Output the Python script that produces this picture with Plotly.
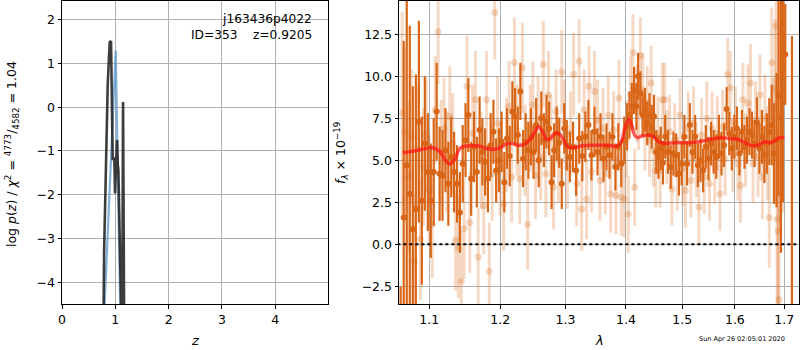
import plotly.graph_objects as go

# ---------------- left panel: p(z) ----------------
pz_black_z = [0.770, 0.776, 0.790, 0.826, 0.858, 0.895, 0.905, 0.920, 0.951, 0.965, 0.982, 0.995,
              1.014, 1.033, 1.045, 1.058, 1.070, 1.100, 1.112, 1.125, 1.132, 1.145, 1.158, 1.170]
pz_black_v = [-6.0, -4.5, -3.3, -1.29, 0.54, 1.49, 1.50, 1.49, -1.21, -1.15, -1.21, -1.97,
              -1.21, -0.75, -1.3, -1.44, -2.2, -3.8, -4.4, -5.5, -4.6, 0.12, -5.5, -6.0]
pz_blue_z = [0.785, 0.800, 1.008, 1.058, 1.090, 1.100]
pz_blue_v = [-6.0, -4.5, 1.30, -2.05, -4.5, -6.0]

# ---------------- right panel: spectrum ----------------
dark_wave = [1.062, 1.066, 1.070, 1.074, 1.078, 1.082, 1.086, 1.090, 1.094, 1.098, 1.102, 1.106, 1.110,
             1.114, 1.118, 1.122, 1.126, 1.130, 1.134, 1.138, 1.142, 1.146, 1.150, 1.154, 1.158, 1.162,
             1.166, 1.170, 1.174, 1.178, 1.182, 1.186, 1.190, 1.194, 1.198, 1.202, 1.206, 1.210, 1.214,
             1.218, 1.222, 1.226, 1.230, 1.234, 1.238, 1.242, 1.246, 1.250, 1.254, 1.258, 1.262, 1.266,
             1.270, 1.274, 1.278, 1.282, 1.286, 1.290, 1.294, 1.298, 1.302, 1.307, 1.312, 1.317, 1.322,
             1.327, 1.332, 1.337, 1.342, 1.347, 1.352, 1.357, 1.362, 1.367, 1.372, 1.377, 1.382, 1.387,
             1.392, 1.397, 1.402, 1.406, 1.410, 1.414, 1.418, 1.421, 1.425, 1.429, 1.433, 1.437, 1.441,
             1.445, 1.449, 1.453, 1.457, 1.461, 1.465, 1.469, 1.474, 1.479, 1.484, 1.489, 1.494, 1.499,
             1.504, 1.509, 1.514, 1.519, 1.524, 1.529, 1.534, 1.539, 1.544, 1.549, 1.554, 1.559, 1.564,
             1.569, 1.574, 1.579, 1.584, 1.589, 1.594, 1.599, 1.604, 1.609, 1.614, 1.619, 1.624, 1.629,
             1.634, 1.639, 1.644, 1.649, 1.654, 1.659, 1.664, 1.669, 1.674, 1.679, 1.684, 1.688, 1.693,
             1.697, 1.702, 1.716]
dark_flux = [-8.0, 1.6, 4.7, 3.0, 0.9, 2.1, 7.3, 2.6, 6.0, 4.3, 2.6, 4.3, 7.9,
             4.2, 4.1, 5.6, 3.6, 5.2, 4.3, 3.6, 1.9, 4.8, 6.2, 7.7, 3.9, 5.8,
             4.3, 6.8, 5.5, 4.9, 3.9, 5.9, 6.7, 4.4, 5.0, 6.1, 3.7, 6.3, 5.25,
             7.9, 7.6, 6.5, 9.1, 5.1, 6.1, 5.6, 6.4, 5.5, 7.1, 5.0, 7.5, 6.2,
             7.3, 6.9, 3.7, 5.6, 6.6, 6.05, 3.6, 6.9, 5.9, 5.2, 5.8, 4.4, 6.3,
             5.25, 6.4, 7.1, 5.3, 6.7, 5.5, 6.4, 5.1, 5.8, 5.3, 6.4, 4.6, 5.8,
             4.8, 6.2, 7.0, 7.7, 8.2, 9.15, 8.2, 10.0, 9.0, 7.7, 8.0, 7.2, 7.7,
             7.0, 7.6, 5.5, 5.2, 5.7, 4.86, 6.4, 5.5, 4.6, 5.4, 5.3, 4.2, 4.8,
             6.4, 4.8, 7.1, 5.5, 6.4, 4.7, 5.0, 4.4, 5.8, 5.1, 6.0, 5.5, 5.2,
             6.4, 5.4, 5.9, 8.05, 6.6, 5.7, 6.4, 6.9, 5.4, 6.7, 5.8, 6.2, 6.7,
             6.5, 6.0, 7.25, 5.7, 6.4, 5.35, 6.0, 6.7, 7.1, 5.4, 6.2, 8.85, 7.5,
             12.5, 11.3, -10.0]
dark_err = [5.5, 10.5, 12.0, 10.0, 8.5, 8.0, 6.0, 5.0, 4.0, 3.5, 3.4, 3.2, 2.9,
            2.8, 2.7, 2.5, 2.5, 2.4, 2.4, 2.3, 2.4, 2.3, 2.2, 2.2, 2.2, 2.1,
            2.1, 2.0, 2.0, 2.0, 2.0, 1.9, 1.9, 1.9, 1.9, 1.8, 1.8, 1.8, 1.8,
            1.8, 1.7, 1.7, 1.7, 1.7, 1.7, 1.7, 1.7, 1.6, 1.6, 1.6, 1.6, 1.6,
            1.6, 1.6, 1.6, 1.6, 1.6, 1.5, 1.5, 1.5, 1.5, 1.5, 1.5, 1.5, 1.5,
            1.5, 1.5, 1.5, 1.5, 1.5, 1.4, 1.4, 1.4, 1.4, 1.4, 1.4, 1.4, 1.4,
            1.4, 1.4, 1.4, 1.4, 1.4, 1.4, 1.4, 1.4, 1.3, 1.3, 1.3, 1.3, 1.3,
            1.3, 1.3, 1.3, 1.3, 1.3, 1.3, 1.3, 1.3, 1.3, 1.3, 1.3, 1.3, 1.3,
            1.3, 1.3, 1.3, 1.3, 1.3, 1.3, 1.3, 1.3, 1.3, 1.3, 1.3, 1.3, 1.3,
            1.3, 1.3, 1.3, 1.3, 1.3, 1.3, 1.3, 1.3, 1.3, 1.3, 1.3, 1.4, 1.4,
            1.4, 1.4, 1.5, 1.5, 1.6, 1.7, 1.8, 2.0, 2.4, 3.0, 4.0, 6.0, 8.0,
            10.0, 3.0, 22.4]

light_wave = [1.064, 1.068, 1.072, 1.076, 1.080, 1.084, 1.088, 1.092, 1.096, 1.100, 1.104, 1.108, 1.112,
              1.116, 1.120, 1.124, 1.128, 1.132, 1.136, 1.140, 1.144, 1.148, 1.152, 1.156, 1.160, 1.164,
              1.168, 1.172, 1.176, 1.180, 1.184, 1.188, 1.192, 1.196, 1.200, 1.205, 1.209, 1.213, 1.217,
              1.221, 1.225, 1.229, 1.233, 1.237, 1.241, 1.245, 1.249, 1.253, 1.257, 1.261, 1.265, 1.269,
              1.273, 1.277, 1.281, 1.285, 1.289, 1.294, 1.298, 1.303, 1.308, 1.313, 1.318, 1.322, 1.326,
              1.330, 1.334, 1.338, 1.342, 1.347, 1.352, 1.356, 1.361, 1.365, 1.370, 1.374, 1.379, 1.383,
              1.388, 1.392, 1.397, 1.401, 1.404, 1.408, 1.412, 1.415, 1.419, 1.422, 1.425, 1.429, 1.433,
              1.437, 1.441, 1.444, 1.448, 1.452, 1.456, 1.460, 1.464, 1.468, 1.472, 1.477, 1.481, 1.486,
              1.491, 1.496, 1.501, 1.506, 1.511, 1.516, 1.521, 1.526, 1.531, 1.536, 1.541, 1.546, 1.551,
              1.556, 1.561, 1.566, 1.571, 1.576, 1.581, 1.586, 1.591, 1.596, 1.601, 1.606, 1.611, 1.616,
              1.621, 1.626, 1.631, 1.636, 1.641, 1.646, 1.650, 1.655, 1.660, 1.665, 1.669, 1.674, 1.678,
              1.681, 1.683, 1.685, 1.687, 1.689, 1.692, 1.697]
light_flux = [7.8, 6.7, 4.0, 6.4, -1.0, 5.7, 0.3, 4.6, 6.5, 3.2, 1.2, 8.0, 12.65,
              5.5, 6.9, 4.9, 7.6, 6.0, 0.25, -0.2, -2.2, 0.95, 9.4, 1.3, 6.6, 8.6,
              -0.75, 5.0, 2.3, 8.6, -1.6, 4.2, 13.8, 7.2, 4.5, 2.4, 5.9, 8.2, 4.0,
              10.8, 6.8, 3.9, 10.5, 5.6, 1.2, 6.9, 8.3, 4.1, 7.4, 5.2, 10.7, 4.2,
              8.9, 6.3, 3.4, 7.9, 5.0, 10.25, 7.3, 4.6, 6.6, 10.1, 3.6, 10.9, 2.1,
              8.0, 2.7, 9.4, 4.3, 9.1, 7.4, 3.8, 6.9, 4.2, 7.7, 3.0, 6.8, 2.9,
              8.7, 2.8, 2.7, 6.3, 1.8, 8.9, 11.4, 3.4, 8.4, 7.9, 11.2, 9.2, 6.6,
              8.4, 6.2, 9.6, 5.6, 4.4, 6.6, 4.4, 8.6, 8.6, 5.8, 6.7, 3.3, 6.2,
              4.2, 7.7, 4.5, 3.2, 6.9, 3.8, 7.2, 5.0, 2.2, 6.5, 4.0, 7.5, 3.6,
              6.9, 4.6, 6.6, 3.0, 7.0, 5.1, 10.1, 9.3, 5.3, 7.2, 4.8, 3.5, 8.6,
              5.6, 8.4, 9.6, 4.8, 7.4, 5.2, 8.9, 4.0, 7.5, 5.4, 1.6, 10.8, 6.2,
              9.2, 13.0, 1.5, 0.8, -3.3, 7.8, 9.9]
light_err = [6.0, 5.0, 4.5, 4.0, 4.0, 3.8, 3.6, 3.5, 3.4, 3.3, 3.2, 3.2, 3.1,
             3.1, 3.0, 3.0, 3.0, 3.0, 3.0, 3.0, 3.0, 3.0, 3.0, 3.0, 2.9, 2.9,
             2.9, 2.9, 2.9, 2.9, 2.9, 2.8, 2.8, 2.8, 2.8, 2.8, 2.8, 2.7, 2.7,
             2.7, 2.7, 2.7, 2.7, 2.7, 2.7, 2.6, 2.6, 2.6, 2.6, 2.6, 2.6, 2.6,
             2.6, 2.6, 2.5, 2.5, 2.5, 2.5, 2.5, 2.5, 2.5, 2.5, 2.5, 2.5, 2.5,
             2.4, 2.4, 2.4, 2.4, 2.4, 2.4, 2.4, 2.4, 2.4, 2.3, 2.3, 2.3, 2.3,
             2.3, 2.3, 2.3, 2.3, 2.3, 2.3, 2.3, 2.3, 2.3, 2.3, 2.3, 2.2, 2.2,
             2.2, 2.2, 2.2, 2.2, 2.2, 2.2, 2.2, 2.2, 2.2, 2.2, 2.2, 2.2, 2.2,
             2.2, 2.2, 2.2, 2.2, 2.2, 2.2, 2.2, 2.2, 2.2, 2.2, 2.2, 2.2, 2.2,
             2.2, 2.2, 2.2, 2.2, 2.2, 2.2, 2.2, 2.2, 2.2, 2.2, 2.2, 2.2, 2.2,
             2.2, 2.3, 2.3, 2.3, 2.3, 2.4, 2.4, 2.5, 2.6, 2.8, 3.0, 3.3, 3.7,
             4.2, 5.0, 5.5, 6.0, 6.5, 7.0, 8.0]

model_wave = [1.065, 1.080, 1.095, 1.105, 1.115, 1.122, 1.128, 1.134, 1.142, 1.150, 1.160, 1.170,
              1.180, 1.190, 1.200, 1.210, 1.218, 1.226, 1.236, 1.246, 1.252, 1.258, 1.264, 1.270,
              1.276, 1.283, 1.290, 1.297, 1.303, 1.312, 1.325, 1.340, 1.355, 1.370, 1.385, 1.392,
              1.398, 1.405, 1.410, 1.415, 1.420, 1.428, 1.438, 1.448, 1.458, 1.470, 1.485, 1.500,
              1.515, 1.530, 1.545, 1.560, 1.575, 1.590, 1.605, 1.620, 1.630, 1.640, 1.650, 1.660,
              1.672, 1.682, 1.690, 1.700]
model_flux = [5.45, 5.55, 5.70, 5.75, 5.5, 5.0, 4.8, 5.0, 5.7, 5.85, 5.87, 5.85,
              5.7, 5.65, 5.75, 6.0, 6.0, 5.9, 5.95, 6.3, 6.7, 7.0, 6.7, 6.25,
              6.3, 6.6, 6.6, 6.2, 5.8, 5.75, 5.85, 5.9, 5.9, 5.9, 5.85, 6.1,
              6.9, 7.45, 7.1, 6.5, 6.35, 6.45, 6.5, 6.4, 6.1, 6.0, 6.05, 6.05,
              6.05, 6.1, 6.2, 6.3, 6.35, 6.3, 6.25, 6.05, 5.9, 5.85, 5.95, 6.1,
              6.05, 6.2, 6.35, 6.35]

zero_wave = [1.05, 1.75]
zero_flux = [0.0, 0.0]

left_yticks = [-4, -3, -2, -1, 0, 1, 2]
left_ytext = ["−4", "−3", "−2", "−1", "0", "1", "2"]
left_xticks = [0, 1, 2, 3, 4]
right_xticks = [1.1, 1.2, 1.3, 1.4, 1.5, 1.6, 1.7]
right_yticks = [-2.5, 0.0, 2.5, 5.0, 7.5, 10.0, 12.5]
right_ytext = ["−2.5", "0.0", "2.5", "5.0", "7.5", "10.0", "12.5"]

title_text = "j163436p4022"
id_text = "ID=353\u00a0\u00a0\u00a0\u00a0z=0.9205"
stamp_text = "Sun Apr 26 02:05:01 2020"

ORANGE = "rgb(217,102,23)"
ORANGE_L = "rgba(217,102,23,0.25)"
FONT = "DejaVu Sans"
W, H = 800, 350
MT, MB = 1, 46
PH = H - MT - MB


def px(x):
    return x / W


def py(y):
    return (H - MB - y) / PH


fig = go.Figure()

fig.add_trace(go.Scatter(x=pz_blue_z, y=pz_blue_v, mode="lines",
                         line=dict(color="rgba(90,150,205,0.75)", width=2.2),
                         xaxis="x", yaxis="y", showlegend=False))
fig.add_trace(go.Scatter(x=pz_black_z, y=pz_black_v, mode="lines",
                         line=dict(color="rgba(40,40,40,0.9)", width=2.6),
                         xaxis="x", yaxis="y", showlegend=False))

fig.add_trace(go.Scatter(x=light_wave, y=light_flux, mode="markers",
                         marker=dict(color=ORANGE_L, size=7),
                         error_y=dict(type="data", array=light_err, color=ORANGE_L,
                                      thickness=3, width=0),
                         xaxis="x2", yaxis="y2", showlegend=False, cliponaxis=True))
fig.add_trace(go.Scatter(x=dark_wave, y=dark_flux, mode="markers",
                         marker=dict(color=ORANGE, size=6),
                         error_y=dict(type="data", array=dark_err, color=ORANGE,
                                      thickness=2.2, width=0),
                         xaxis="x2", yaxis="y2", showlegend=False, cliponaxis=True))
fig.add_trace(go.Scatter(x=model_wave, y=model_flux, mode="lines",
                         line=dict(color="rgba(255,20,20,0.7)", width=3.5, shape="spline"),
                         xaxis="x2", yaxis="y2", showlegend=False))
fig.add_trace(go.Scatter(x=zero_wave, y=zero_flux, mode="lines",
                         line=dict(color="black", width=2, dash="dot"),
                         xaxis="x2", yaxis="y2", showlegend=False))

axis_common = dict(showline=True, mirror=True, linecolor="black", linewidth=1,
                   ticks="outside", ticklen=3.5, tickwidth=1, tickcolor="black",
                   showgrid=True, gridcolor="#b0b0b0", gridwidth=1, zeroline=False,
                   tickfont=dict(family=FONT, size=12.5, color="black"), automargin=False)

fig.update_layout(
    width=W, height=H,
    margin=dict(l=0, r=0, t=MT, b=MB),
    paper_bgcolor="white", plot_bgcolor="white",
    font=dict(family=FONT, color="black"),
    hovermode=False,
    xaxis=dict(domain=[62 / W, 328 / W], range=[0, 4.99], tickvals=left_xticks,
               anchor="y", **axis_common),
    yaxis=dict(domain=[0, 1], range=[-4.5, 2.43], tickvals=left_yticks, ticktext=left_ytext,
               anchor="x", **axis_common),
    xaxis2=dict(domain=[399 / W, 799 / W], type="log", range=[0.02526, 0.23828],
                tickvals=right_xticks, ticktext=[str(v) for v in right_xticks],
                anchor="y2", **axis_common),
    yaxis2=dict(domain=[0, 1], range=[-3.55, 14.48], tickvals=right_yticks,
                ticktext=right_ytext, anchor="x2", **axis_common),
)

ann = [
    dict(x=px(314), y=py(19), text=title_text, xanchor="right", yanchor="middle",
         font=dict(size=12.2)),
    dict(x=px(314), y=py(35), text=id_text, xanchor="right", yanchor="middle",
         font=dict(size=12.2)),
    dict(x=px(195), y=py(340), text="<i>z</i>", xanchor="center", yanchor="middle",
         font=dict(size=13)),
    dict(x=px(599), y=py(340), text="<i>λ</i>", xanchor="center", yanchor="middle",
         font=dict(size=13)),
    dict(x=px(12), y=py(154), text="log <i>p</i>(<i>z</i>) / <i>χ</i><sup>2</sup> = "
                                    "<sup>4773</sup>/<sub>4582</sub> = 1.04",
         textangle=-90, xanchor="center", yanchor="middle", font=dict(size=12.5)),
    dict(x=px(341), y=py(153), text="<i>f</i><sub><i>λ</i></sub> × 10<sup>−19</sup>",
         textangle=-90, xanchor="center", yanchor="middle", font=dict(size=12.5)),
    dict(x=px(742), y=py(339), text=stamp_text, xanchor="center", yanchor="middle",
         font=dict(size=6.5)),
]
for a in ann:
    a.update(xref="paper", yref="paper", showarrow=False)
    a.setdefault("font", {})
    a["font"] = dict(family=FONT, color="black", **a["font"])
fig.update_layout(annotations=ann)

fig.write_html("out.html",
               config={"displayModeBar": False},
               post_script="document.body.style.margin='0';"
                           "document.body.style.overflow='hidden';")
